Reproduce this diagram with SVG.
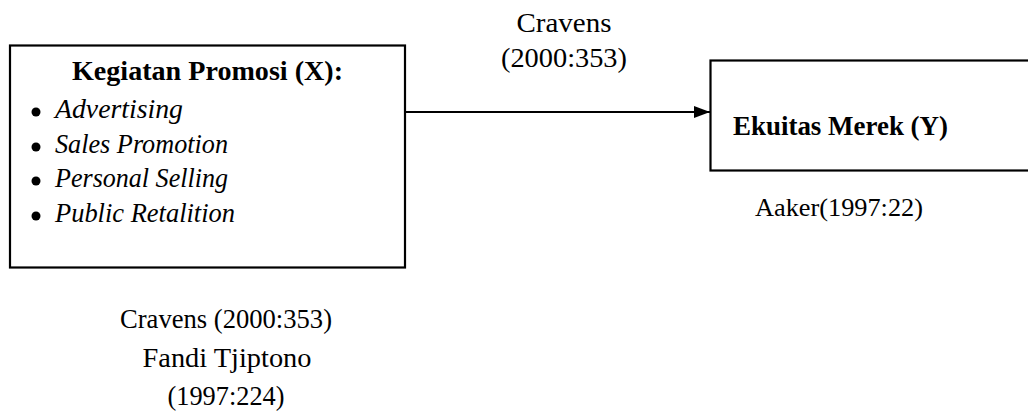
<svg xmlns="http://www.w3.org/2000/svg" width="1028" height="414" viewBox="0 0 1028 414">
<style>
.box{fill:#fff;stroke:#000;stroke-width:2.2}
.t{font-family:"Liberation Serif","Times New Roman",serif;font-size:28px;fill:#000}
.s{font-size:26px}
.b{font-weight:bold}
.i{font-style:italic}
.m{text-anchor:middle}
.conn{stroke:#000;stroke-width:2;fill:none}
</style>
<defs>
<marker id="ah" markerWidth="16" markerHeight="12" refX="16" refY="6" orient="auto" markerUnits="userSpaceOnUse">
<polygon points="0,0 16,6 0,12" fill="#000"/>
</marker>
</defs>
<rect width="1028" height="414" fill="#fff"/>
<g id="connectors">
<line class="conn" x1="405" y1="112" x2="710" y2="112" marker-end="url(#ah)"/>
<text class="t m" x="564" y="32" textLength="95" lengthAdjust="spacingAndGlyphs">Cravens</text>
<text class="t m" x="564" y="67" textLength="126" lengthAdjust="spacingAndGlyphs">(2000:353)</text>
</g>
<g id="node-x">
<rect class="box" x="10" y="45.5" width="395" height="222"/>
<text class="t b" x="72" y="80" textLength="271" lengthAdjust="spacingAndGlyphs">Kegiatan Promosi  (X):</text>
<circle cx="36" cy="112" r="4.5"/>
<circle cx="36" cy="147" r="4.5"/>
<circle cx="36" cy="181" r="4.5"/>
<circle cx="36" cy="216" r="4.5"/>
<text class="t i" x="55" y="118" textLength="128" lengthAdjust="spacingAndGlyphs">Advertising</text>
<text class="t i" x="55" y="153" textLength="173" lengthAdjust="spacingAndGlyphs">Sales Promotion</text>
<text class="t i" x="55" y="187" textLength="173" lengthAdjust="spacingAndGlyphs">Personal Selling</text>
<text class="t i" x="55" y="222" textLength="180" lengthAdjust="spacingAndGlyphs">Public Retalition</text>
</g>
<g id="node-y">
<rect class="box" x="710.5" y="60.5" width="330" height="110"/>
<text class="t b" x="733" y="135" textLength="215" lengthAdjust="spacingAndGlyphs">Ekuitas Merek (Y)</text>
</g>
<g id="label-aaker">
<text class="t s m" x="839" y="216" textLength="168" lengthAdjust="spacingAndGlyphs">Aaker(1997:22)</text>
</g>
<g id="label-refs">
<text class="t m" x="226" y="328" textLength="212" lengthAdjust="spacingAndGlyphs">Cravens (2000:353)</text>
<text class="t m" x="227" y="367" textLength="169" lengthAdjust="spacingAndGlyphs">Fandi Tjiptono</text>
<text class="t m" x="226" y="405" textLength="117" lengthAdjust="spacingAndGlyphs">(1997:224)</text>
</g>
</svg>
